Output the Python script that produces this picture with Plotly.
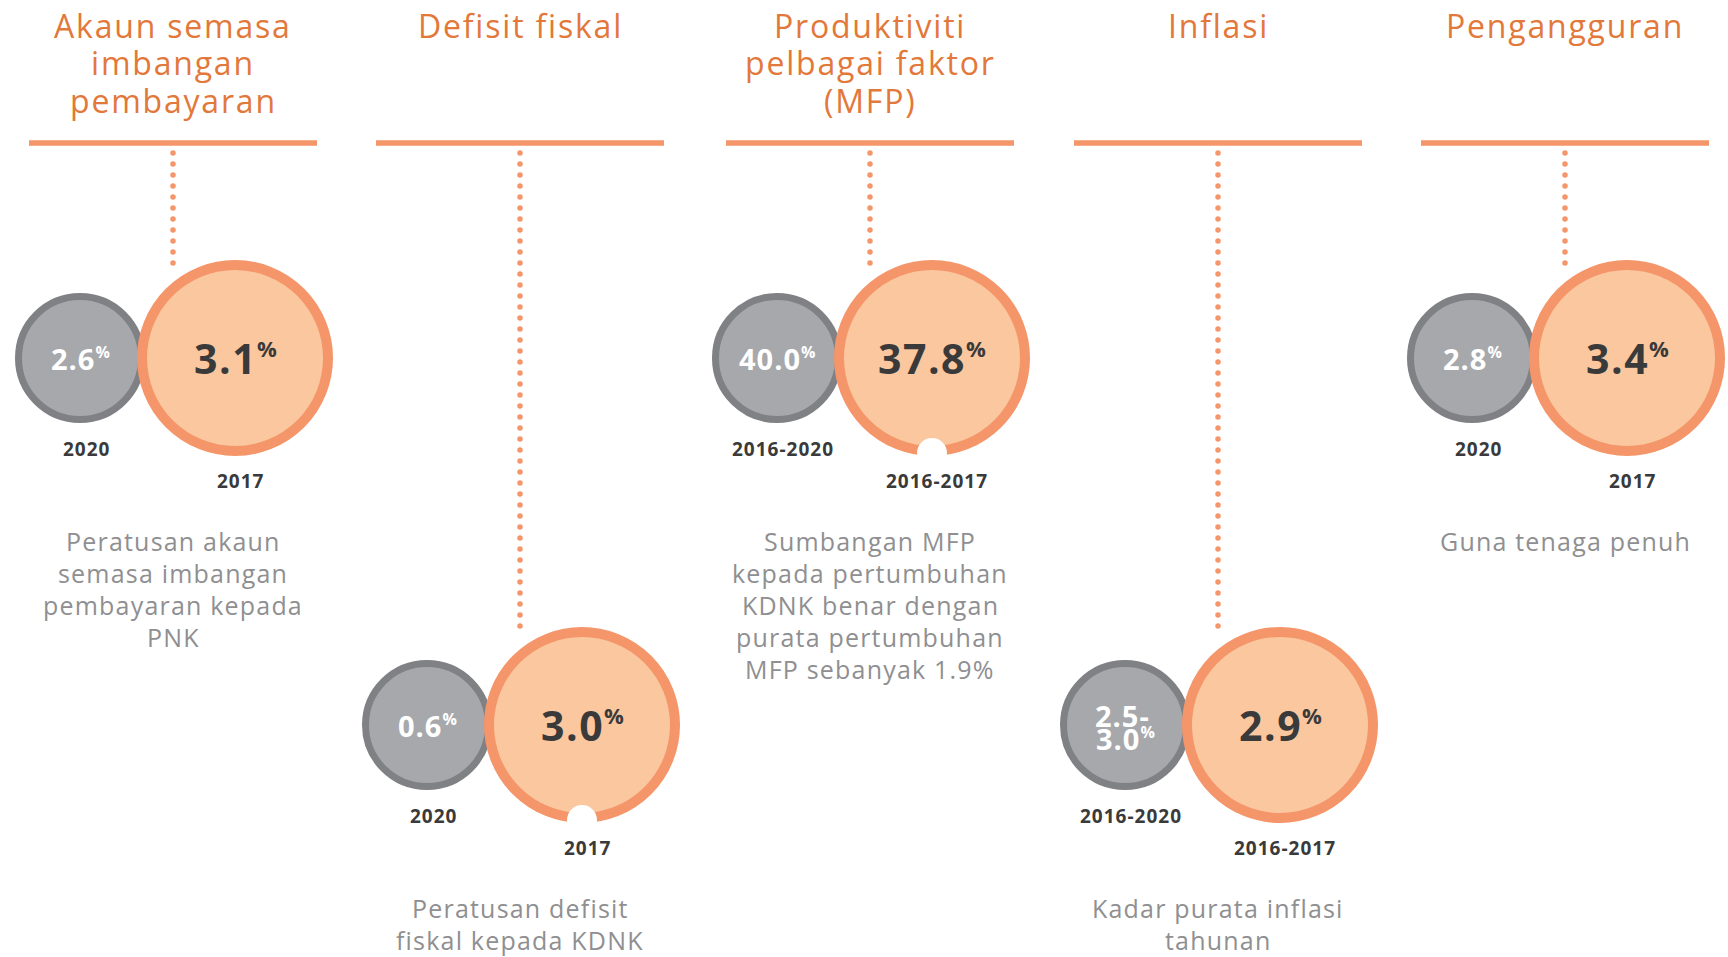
import numpy as np
import plotly.graph_objects as go

# ---------------- data ----------------
titles = [
    ["Akaun semasa", "imbangan", "pembayaran"],
    ["Defisit fiskal"],
    ["Produktiviti", "pelbagai faktor", "(MFP)"],
    ["Inflasi"],
    ["Pengangguran"],
]
target_values = ["2.6", "0.6", "40.0", "2.5-|3.0", "2.8"]
target_periods = ["2020", "2020", "2016-2020", "2016-2020", "2020"]
actual_values = ["3.1", "3.0", "37.8", "2.9", "3.4"]
actual_periods = ["2017", "2017", "2016-2017", "2016-2017", "2017"]
descriptions = [
    ["Peratusan akaun", "semasa imbangan", "pembayaran kepada", "PNK"],
    ["Peratusan defisit", "fiskal kepada KDNK"],
    ["Sumbangan MFP", "kepada pertumbuhan", "KDNK benar dengan", "purata pertumbuhan", "MFP sebanyak 1.9%"],
    ["Kadar purata inflasi", "tahunan"],
    ["Guna tenaga penuh"],
]

# ---------------- layout geometry ----------------
W, H = 1728, 957
panel_x = [173, 520, 870, 1218, 1565]
panel_row = [0, 1, 0, 1, 0]
row_cy = [358, 725]
notch = [False, True, True, False, False]

TITLE_C = "#E2783A"
LINE_C = "#F5956A"
RING_O = "#F5956A"
FILL_O = "#FAC79F"
RING_G = "#808185"
FILL_G = "#A7A8AC"
DARK = "#3A3A3A"
DESC_C = "#8F8F91"
FONT = "Open Sans"


def sp(text, ls):
    return "<span style='letter-spacing:%spx'>%s</span>" % (ls, text)


def pct(size):
    return "<sup><span style='font-size:%dpx'>%%</span></sup>" % size


fig = go.Figure()
shapes = []
annotations = []


def circle(cx, cy, r_out, stroke, fill, line_c):
    r = r_out - stroke / 2.0
    return dict(type="circle", xref="x", yref="y", x0=cx - r, x1=cx + r,
                y0=cy - r, y1=cy + r, fillcolor=fill,
                line=dict(color=line_c, width=stroke), layer="above")


for i, px in enumerate(panel_x):
    cy = row_cy[panel_row[i]]
    # title lines
    for j, line in enumerate(titles[i]):
        annotations.append(dict(x=px, y=25 + 37.5 * j, xref="x", yref="y",
                                text=sp(line, 1.8), showarrow=False, xanchor="center", yanchor="middle",
                                font=dict(family=FONT, size=32, color=TITLE_C)))
    # header rule
    shapes.append(dict(type="line", xref="x", yref="y", x0=px - 144, x1=px + 144,
                       y0=143, y1=143, line=dict(color=LINE_C, width=5.5), layer="above"))
    # dotted connector
    ys = np.arange(153, cy - 88, 11.0)
    fig.add_trace(go.Scatter(x=[px] * len(ys), y=ys, mode="markers",
                             marker=dict(size=5.5, color=LINE_C, line=dict(width=0)),
                             hoverinfo="skip", showlegend=False))
    # circles
    gx, ox = px - 93, px + 62
    shapes.append(circle(gx, cy, 65, 7, FILL_G, RING_G))
    shapes.append(circle(ox, cy, 98, 10, FILL_O, RING_O))
    if notch[i]:
        shapes.append(dict(type="circle", xref="x", yref="y", x0=ox - 15, x1=ox + 15,
                           y0=cy + 80, y1=cy + 110, fillcolor="white",
                           line=dict(width=0), layer="above"))
    # target value (grey)
    tv = target_values[i].split("|")
    if len(tv) == 1:
        annotations.append(dict(x=gx, y=cy, xref="x", yref="y",
                                text="<b>" + sp(tv[0], 1) + pct(16) + "</b>",
                                showarrow=False, xanchor="center", yanchor="middle",
                                font=dict(family=FONT, size=29, color="white")))
    else:
        annotations.append(dict(x=gx - 3, y=cy - 10, xref="x", yref="y",
                                text="<b>" + sp(tv[0], 1) + "</b>", showarrow=False,
                                xanchor="center", yanchor="middle",
                                font=dict(family=FONT, size=29, color="white")))
        annotations.append(dict(x=gx, y=cy + 13, xref="x", yref="y",
                                text="<b>" + sp(tv[1], 1) + pct(16) + "</b>",
                                showarrow=False, xanchor="center", yanchor="middle",
                                font=dict(family=FONT, size=29, color="white")))
    # actual value (orange)
    annotations.append(dict(x=ox, y=cy, xref="x", yref="y",
                            text="<b>" + sp(actual_values[i], 1.5) + pct(22) + "</b>",
                            showarrow=False, xanchor="center", yanchor="middle",
                            font=dict(family=FONT, size=41, color=DARK)))
    # period labels
    annotations.append(dict(x=gx + 6, y=cy + 91, xref="x", yref="y",
                            text="<b>" + sp(target_periods[i], 1) + "</b>", showarrow=False,
                            xanchor="center", yanchor="middle",
                            font=dict(family=FONT, size=19, color=DARK)))
    annotations.append(dict(x=ox + 5, y=cy + 123, xref="x", yref="y",
                            text="<b>" + sp(actual_periods[i], 1) + "</b>", showarrow=False,
                            xanchor="center", yanchor="middle",
                            font=dict(family=FONT, size=19, color=DARK)))
    # description
    for j, line in enumerate(descriptions[i]):
        annotations.append(dict(x=px, y=cy + 183 + 32 * j, xref="x", yref="y",
                                text=sp(line, 1.2), showarrow=False, xanchor="center", yanchor="middle",
                                font=dict(family=FONT, size=25, color=DESC_C)))

fig.update_layout(
    width=W, height=H,
    margin=dict(l=0, r=0, t=0, b=0),
    paper_bgcolor="white", plot_bgcolor="white",
    xaxis=dict(range=[0, W], visible=False, fixedrange=True),
    yaxis=dict(range=[H, 0], visible=False, fixedrange=True),
    shapes=shapes, annotations=annotations, showlegend=False,
)

fig.write_html("out.html", config={"displayModeBar": False},
               post_script="document.body.style.margin='0';document.body.style.overflow='hidden';")
